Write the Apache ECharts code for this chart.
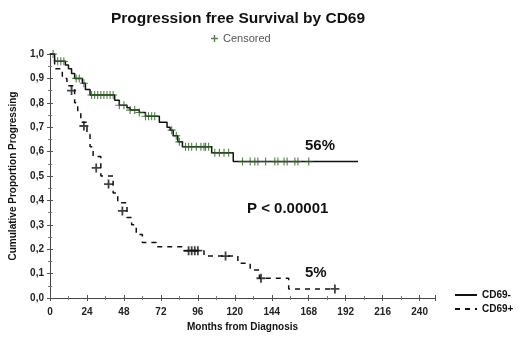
<!DOCTYPE html>
<html>
<head>
<meta charset="utf-8">
<script src="https://cdn.jsdelivr.net/npm/echarts@6/dist/echarts.min.js"></script>
<style>
  html, body { margin: 0; padding: 0; background: #fff; }
  #chart { width: 520px; height: 343px; }
</style>
</head>
<body>
<div id="chart"></div>
<script>
// 生存曲线数据（月份, 累计比例），按阶梯画
const negTimes = [0, 3, 10, 12, 14, 16, 21, 23, 26, 42, 45, 50, 52, 58, 62, 71, 76, 78, 80, 83, 86, 105, 119, 200];
const negValues = [1.0, 0.97, 0.955, 0.94, 0.92, 0.90, 0.88, 0.855, 0.832, 0.81, 0.79, 0.78, 0.77, 0.76, 0.745, 0.72, 0.70, 0.688, 0.665, 0.64, 0.62, 0.595, 0.559, 0.559];

const posTimes = [0, 3, 8, 11, 16, 18, 20, 24, 26, 28, 33, 41, 44, 50, 53, 56, 60, 69, 86, 100, 122, 130, 136, 155, 185];
const posValues = [1.0, 0.94, 0.90, 0.87, 0.80, 0.76, 0.72, 0.67, 0.62, 0.58, 0.50, 0.43, 0.39, 0.33, 0.30, 0.26, 0.227, 0.21, 0.194, 0.172, 0.142, 0.115, 0.081, 0.037, 0.037];

// 删失点
const negCensorTimes = [2, 5, 7, 9, 17, 19, 22, 27, 29, 31, 33, 35, 37, 39, 41, 45, 48, 52, 55, 58, 62, 64, 66, 68, 79, 82, 84, 88, 90, 92, 95, 98, 100, 101, 103, 107, 110, 113, 116, 125, 130, 133, 135, 140, 146, 148, 152, 154, 159, 161, 168];
const posCensorTimes = [14, 22, 30, 38, 47, 90, 92, 94, 96, 114, 137, 185];
const posCensorValues = [0.85, 0.705, 0.533, 0.467, 0.357, 0.194, 0.194, 0.194, 0.194, 0.172, 0.081, 0.037];

const xTicks = [0, 24, 48, 72, 96, 120, 144, 168, 192, 216, 240];

// 阶梯函数取值
const stepValue = (times, values, t) => {
  let v = values[0];
  for (let i = 0; i < times.length; i++) {
    if (times[i] <= t) v = values[i];
  }
  return v;
};

const negLine = negTimes.map((t, i) => [t, negValues[i]]);
const posLine = posTimes.map((t, i) => [t, posValues[i]]);
const negCensor = negCensorTimes.map(t => [t, stepValue(negTimes, negValues, t)]);
const posCensor = posCensorTimes.map((t, i) => [t, posCensorValues[i]]);

const FONT = 'Liberation Sans, Arial, sans-serif';
const PLUS_THIN = 'path://M4.3,0h1.4v10h-1.4zM0,4.3h10v1.4h-10z';
const PLUS = 'path://M4,0h2v10h-2zM0,4h10v2h-10z';

const myChart = echarts.init(document.getElementById('chart'));

const tickStyle = { show: true, inside: true, length: 3, lineStyle: { color: '#555' } };

const option = {
  animation: false,
  backgroundColor: '#fff',
  textStyle: { fontFamily: FONT },
  title: {
    text: 'Progression free Survival by CD69',
    left: 233,
    textAlign: 'center',
    top: 6,
    textStyle: { fontSize: 15.5, fontWeight: 'bold', color: '#111', fontFamily: FONT }
  },
  legend: [
    {
      data: [{ name: 'Censored', icon: PLUS }],
      left: 206,
      top: 28,
      itemWidth: 7,
      itemHeight: 7,
      itemGap: 6,
      textStyle: { fontSize: 11, color: '#555', fontFamily: FONT }
    },
    {
      data: ['CD69-', 'CD69+'],
      orient: 'vertical',
      left: 449,
      top: 285,
      itemWidth: 22,
      itemHeight: 2,
      itemGap: 4,
      textStyle: { fontSize: 10, fontWeight: 'bold', color: '#111', fontFamily: FONT }
    }
  ],
  grid: { left: 47, right: 85, top: 54, bottom: 45 },
  xAxis: [
    {
      type: 'value',
      min: 0,
      max: 250,
      interval: 24,
      name: 'Months from Diagnosis',
      nameLocation: 'middle',
      nameGap: 23,
      nameTextStyle: { fontSize: 10, fontWeight: 'bold', color: '#111' },
      axisLine: { lineStyle: { color: '#444' } },
      axisTick: tickStyle,
      minorTick: { show: true, splitNumber: 2, length: 2, lineStyle: { color: '#777' } },
      splitLine: { show: false },
      axisLabel: {
        fontSize: 10, fontWeight: 'bold', color: '#222', margin: 9,
        showMaxLabel: false,
        formatter: v => (xTicks.indexOf(v) >= 0 ? String(v) : '')
      }
    },
    {
      type: 'value',
      position: 'top',
      min: 0,
      max: 250,
      interval: 24,
      axisLine: { show: true, lineStyle: { color: '#444' } },
      axisTick: tickStyle,
      minorTick: { show: true, splitNumber: 2, length: 2, lineStyle: { color: '#777' } },
      axisLabel: { show: false },
      splitLine: { show: false }
    }
  ],
  yAxis: [
    {
      type: 'value',
      min: 0,
      max: 1,
      interval: 0.1,
      name: 'Cumulative Proportion Progressing',
      nameLocation: 'middle',
      nameGap: 32,
      nameTextStyle: { fontSize: 10, fontWeight: 'bold', color: '#111' },
      axisLine: { show: true, lineStyle: { color: '#444' } },
      axisTick: tickStyle,
      minorTick: { show: true, splitNumber: 2, length: 2, lineStyle: { color: '#777' } },
      splitLine: { show: false },
      axisLabel: {
        fontSize: 10, fontWeight: 'bold', color: '#222', margin: 6,
        formatter: v => v.toFixed(1).replace('.', ',')
      }
    },
    {
      type: 'value',
      position: 'right',
      min: 0,
      max: 1,
      interval: 0.1,
      axisLine: { show: true, lineStyle: { color: '#444' } },
      axisTick: tickStyle,
      minorTick: { show: true, splitNumber: 2, length: 2, lineStyle: { color: '#777' } },
      axisLabel: { show: false },
      splitLine: { show: false }
    }
  ],
  series: [
    {
      name: 'CD69-',
      type: 'line',
      step: 'end',
      data: negLine,
      showSymbol: false,
      symbol: 'none',
      lineStyle: { color: '#111', width: 1.5, type: 'solid' },
      itemStyle: { color: '#111' },
      z: 2
    },
    {
      name: 'CD69+',
      type: 'line',
      step: 'end',
      data: posLine,
      showSymbol: false,
      symbol: 'none',
      lineStyle: { color: '#111', width: 1.5, type: [5, 5] },
      itemStyle: { color: '#111' },
      z: 2
    },
    {
      name: 'Censored',
      type: 'scatter',
      data: negCensor,
      symbol: PLUS_THIN,
      symbolSize: 8,
      itemStyle: { color: '#2f5e25' },
      z: 3
    },
    {
      name: 'CensoredPos',
      type: 'scatter',
      data: posCensor,
      symbol: PLUS,
      symbolSize: 9,
      itemStyle: { color: '#111' },
      z: 3
    }
  ],
  graphic: [
    {
      type: 'text', left: 305, top: 138,
      style: { text: '56%', fontSize: 15, fontWeight: 'bold', fill: '#111', fontFamily: FONT }
    },
    {
      type: 'text', left: 247, top: 201,
      style: { text: 'P < 0.00001', fontSize: 15, fontWeight: 'bold', fill: '#111', fontFamily: FONT }
    },
    {
      type: 'text', left: 305, top: 265,
      style: { text: '5%', fontSize: 15, fontWeight: 'bold', fill: '#111', fontFamily: FONT }
    }
  ]
};

myChart.setOption(option);
</script>
</body>
</html>
